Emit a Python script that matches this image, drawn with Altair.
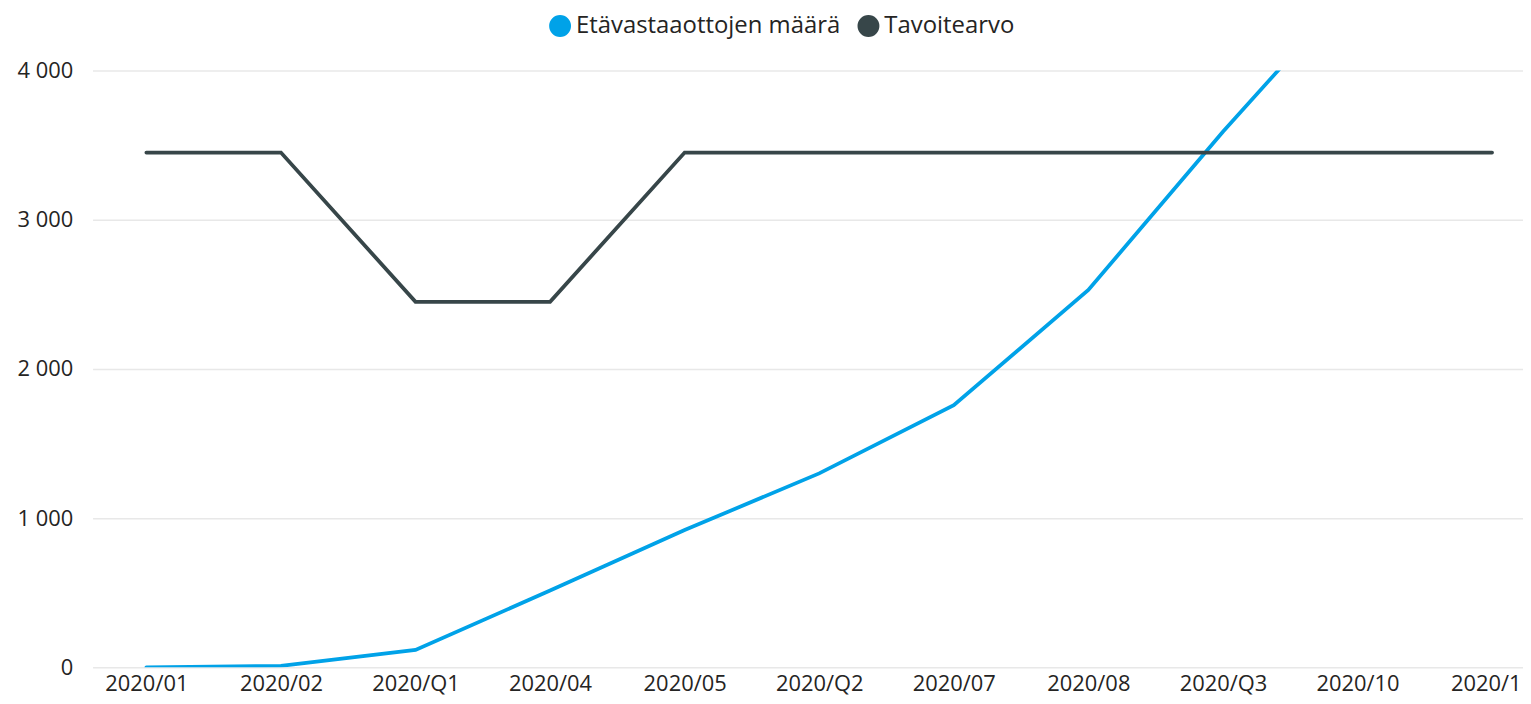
import altair as alt
import pandas as pd

categories = ["2020/01", "2020/02", "2020/Q1", "2020/04", "2020/05", "2020/Q2",
              "2020/07", "2020/08", "2020/Q3", "2020/10", "2020/11"]
visits = [0, 10, 117, 515, 920, 1300, 1757, 2529, 3590, 4590, 5450]
target = [3450, 3450, 2450, 2450, 3450, 3450, 3450, 3450, 3450, 3450, 3450]
series_names = ["Etävastaaottojen määrä", "Tavoitearvo"]
series_colors = ["#00A2E8", "#374649"]

rows = []
for c, v in zip(categories, visits):
    rows.append({"cat": c, "value": v, "series": series_names[0]})
for c, v in zip(categories, target):
    rows.append({"cat": c, "value": v, "series": series_names[1]})
df = pd.DataFrame(rows)

FONT = "Segoe UI, Open Sans, Noto Sans, sans-serif"
TEXT = "#252423"

chart = alt.Chart(df).mark_line(strokeWidth=3.8, clip=True, strokeCap="round").encode(
    x=alt.X("cat:N", sort=categories, title=None,
            scale=alt.Scale(type="point", range=[0, 1461], padding=0.4),
            axis=alt.Axis(labelAngle=0, domain=False, ticks=False, grid=False,
                          labelFontSize=22, labelPadding=6, labelFont=FONT,
                          labelColor=TEXT, labelBound=False, labelOverlap=False)),
    y=alt.Y("value:Q", title=None,
            scale=alt.Scale(domain=[0, 4000], nice=False),
            axis=alt.Axis(values=[0, 1000, 2000, 3000, 4000], domain=False, ticks=False,
                          labelFontSize=22, labelPadding=20, labelFont=FONT,
                          labelColor=TEXT, gridColor="#E8E8E8", gridWidth=1.5,
                          labelExpr="replace(format(datum.value, ','), ',', ' ')")),
    color=alt.Color("series:N",
                    scale=alt.Scale(domain=series_names, range=series_colors),
                    legend=alt.Legend(orient="none", legendX=458, legendY=-57,
                                      direction="horizontal", title=None,
                                      symbolType="circle", symbolSize=121,
                                      symbolStrokeWidth=11,
                                      labelFontSize=24, labelFont=FONT,
                                      labelColor=TEXT, labelOffset=4,
                                      labelLimit=0, columnPadding=0)),
    detail="series:N",
).properties(
    width=1438, height=600,
    autosize=alt.AutoSizeParams(type="none"),
    padding={"left": 85, "top": 61, "right": 0, "bottom": 35},
).configure_view(stroke=None)

chart.save("out.html", embed_options={"renderer": "svg", "actions": False})
